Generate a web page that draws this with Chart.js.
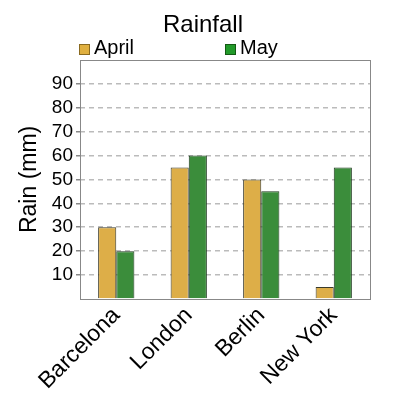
<!DOCTYPE html>
<html><head><meta charset="utf-8">
<script src="https://cdn.jsdelivr.net/npm/chart.js@4"></script>
<style>html,body{margin:0;padding:0;background:#fff}#wrap{width:400px;height:400px}</style>
</head><body><div id="wrap"><canvas id="c" width="400" height="400"></canvas></div>
<script>
const categories = ['Barcelona', 'London', 'Berlin', 'New York'];
const aprilValues = [30, 55, 50, 5];
const mayValues = [20, 60, 45, 55];
const seriesNames = ['April', 'May'];
const yTicks = [10, 20, 30, 40, 50, 60, 70, 80, 90];

const FONT = "'Liberation Sans', Arial, sans-serif";
const aprilColor = '#ddae48';
const mayColor = '#3b8d3b';
const legendColors = ['#e0b040', '#229a2a'];
const legendBorders = ['#8a6a20', '#145a14'];

const frameAndLegend = {
  id: 'frameAndLegend',
  afterDraw(chart) {
    const ctx = chart.ctx, a = chart.chartArea;
    ctx.save();
    ctx.strokeStyle = '#888';
    ctx.lineWidth = 1;
    ctx.strokeRect(Math.round(a.left) + 0.5, Math.round(a.top) + 0.5, Math.round(a.right - a.left), Math.round(a.bottom - a.top));
    const xs = [a.left - 1, a.left + 145];
    ctx.font = '20px ' + FONT;
    ctx.textBaseline = 'middle';
    chart.data.datasets.forEach((ds, i) => {
      ctx.fillStyle = legendColors[i];
      ctx.fillRect(xs[i], 44, 11, 11);
      ctx.strokeStyle = legendBorders[i];
      ctx.strokeRect(xs[i] + 0.5, 44.5, 10, 10);
      ctx.fillStyle = '#000';
      ctx.fillText(ds.label, xs[i] + 15, 48);
    });
    ctx.restore();
  }
};

new Chart(document.getElementById('c'), {
  type: 'bar',
  data: {
    labels: categories,
    datasets: [
      { label: seriesNames[0], data: aprilValues, backgroundColor: aprilColor, borderColor: '#3a3a2a', borderWidth: 1 },
      { label: seriesNames[1], data: mayValues, backgroundColor: mayColor, borderColor: '#1e3a1e', borderWidth: 1 }
    ]
  },
  options: {
    responsive: false,
    animation: false,
    devicePixelRatio: 1,
    layout: { padding: { left: 36, right: 30, top: 0, bottom: 0 } },
    plugins: {
      legend: { display: false },
      tooltip: { enabled: false },
      title: {
        display: true, text: 'Rainfall', color: '#000',
        font: { family: FONT, size: 24, weight: 'normal' },
        padding: { top: 11, bottom: 20 }
      }
    },
    datasets: { bar: { categoryPercentage: 0.5, barPercentage: 1.0 } },
    scales: {
      x: {
        grid: { display: false, drawTicks: false },
        border: { display: false },
        ticks: {
          color: '#000', font: { family: FONT, size: 23 },
          minRotation: 45, maxRotation: 45, padding: 3, autoSkip: false
        },
        afterFit(s) { s.height = 101; }
      },
      y: {
        min: 0, max: 100,
        afterBuildTicks(s) { s.ticks = [0].concat(yTicks).concat([100]).map(v => ({ value: v })); },
        border: { display: false, dash: [5, 4] },
        grid: {
          color: c => (c.tick && (c.tick.value === 0 || c.tick.value === 100)) ? 'rgba(0,0,0,0)' : '#bbb',
          tickColor: c => (c.tick && (c.tick.value === 0 || c.tick.value === 100)) ? 'rgba(0,0,0,0)' : '#888',
          tickBorderDash: [],
          tickLength: 4,
          lineWidth: 1.5
        },
        ticks: {
          color: '#000', font: { family: FONT, size: 19 }, padding: 3, autoSkip: false,
          callback: v => (v === 0 || v === 100) ? '' : String(v)
        },
        title: {
          display: true, text: 'Rain (mm)', color: '#000',
          font: { family: FONT, size: 23 }, padding: { top: -20, bottom: 6 }
        },
        afterFit(s) { s.width = 44; }
      }
    }
  },
  plugins: [frameAndLegend]
});
</script></body></html>
